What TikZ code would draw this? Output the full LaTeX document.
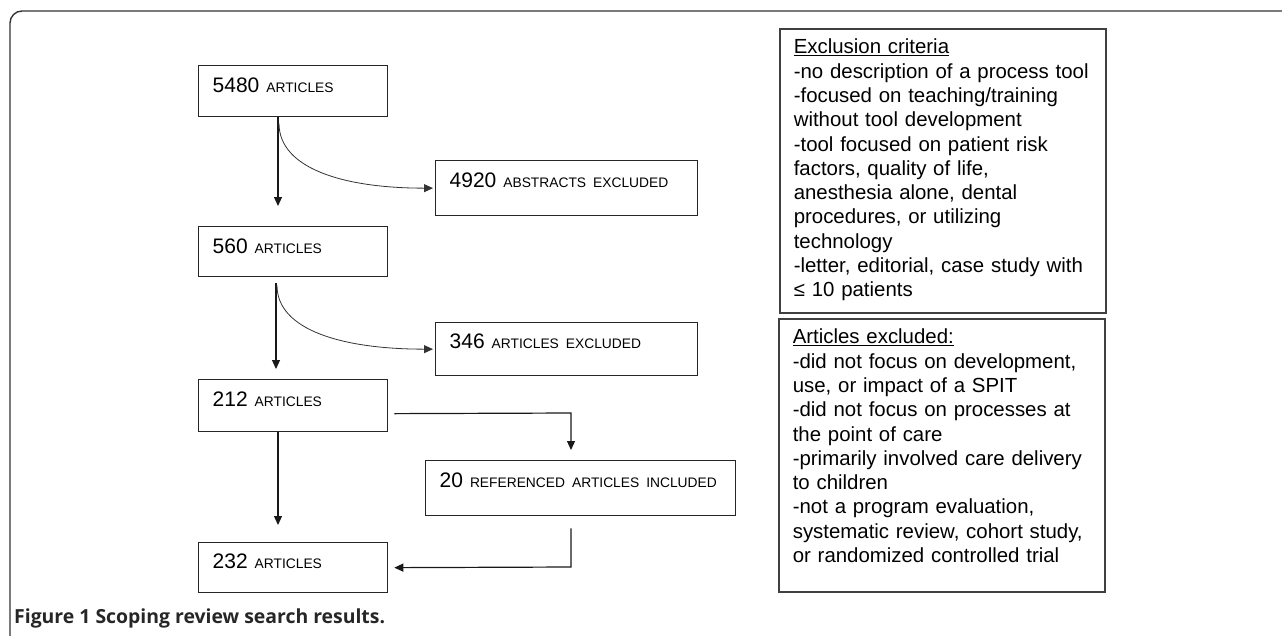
\documentclass[tikz,border=0pt]{standalone}
\usepackage{fontspec}
\setmainfont{Liberation Sans}
\newfontfamily\capfont{Open Sans}
\usetikzlibrary{arrows.meta}
\newcommand\smc[1]{{\fontsize{13.8}{16}\selectfont #1}}
\begin{document}
\begin{tikzpicture}[x=1pt,y=-1pt,
  flow/.style={draw=black!85, line width=1.3pt, inner ysep=0pt, inner xsep=14pt,
    anchor=north west, align=left, text height=27pt,
    font=\fontsize{21}{24}\selectfont},
  crit/.style={draw=black!75, line width=1.6pt, inner ysep=0pt, inner xsep=14pt,
    anchor=north west, align=left, text height=25pt,
    font=\fontsize{20.4}{24.3}\selectfont},
  arr/.style={draw=black!90, line width=1.2pt, -{Triangle[length=9pt,width=8pt]}},
  carr/.style={draw=black!80, line width=0.8pt, -{Triangle[length=9pt,width=8pt]}}]
\useasboundingbox (0,0) rectangle (1282,635);
% frame
\draw[line width=1.4pt, draw=black!80, rounded corners=12pt] (10,660) -- (10,11) -- (1320,11);
% flow boxes
\node[flow, text width=161pt, text depth=24pt] (a) at (198,65) {5480 \smc{ARTICLES}};
\node[flow, text width=234pt, text depth=28pt] (e1) at (435,160) {4920 \smc{ABSTRACTS EXCLUDED}};
\node[flow, text width=161pt, text depth=23pt] (b) at (198,226) {560 \smc{ARTICLES}};
\node[flow, text width=234pt, text depth=27pt, text height=26pt] (e2) at (435,322) {346 \smc{ARTICLES EXCLUDED}};
\node[flow, text width=161pt, text depth=25pt] (c) at (198,379) {212 \smc{ARTICLES}};
\node[flow, text width=282pt, text depth=28pt] (d) at (425,460) {20 \smc{REFERENCED ARTICLES INCLUDED}};
\node[flow, text width=161pt, text depth=24pt, text height=26pt] (f) at (198,542) {232 \smc{ARTICLES}};
% criteria boxes
\node[crit, text width=298pt, text depth=259pt] (k) at (779,28) {\underline{Exclusion criteria}\\
-no description of a process tool\\
-focused on teaching/training\\
without tool development\\
-tool focused on patient risk\\
factors, quality of life,\\
anesthesia alone, dental\\
procedures, or utilizing\\
technology\\
-letter, editorial, case study with\\
≤ 10 patients};
\node[crit, text width=298pt, text depth=248pt] (m) at (778,318) {\underline{Articles excluded:}\\
-did not focus on development,\\
use, or impact of a SPIT\\
-did not focus on processes at\\
the point of care\\
-primarily involved care delivery\\
to children\\
-not a program evaluation,\\
systematic review, cohort study,\\
or randomized controlled trial};
% connectors
\draw[arr] ([xshift=80pt]a.south west) -- ([xshift=80pt,yshift=20pt]b.north west);
\draw[carr] ([xshift=81pt,yshift=-6pt]a.south west) .. controls +(0,-45pt) and +(-90pt,0) .. ([xshift=-2pt]e1.west);
\draw[arr] ([xshift=78pt,yshift=-6pt]b.south west) -- ([xshift=78pt,yshift=10pt]c.north west);
\draw[carr] ([xshift=79pt,yshift=-8pt]b.south west) .. controls +(0,-45pt) and +(-90pt,0) .. ([xshift=-2pt]e2.west);
\draw[arr] ([xshift=80pt]c.south west) -- ([xshift=80pt,yshift=17pt]f.north west);
\coordinate (k1) at (571,413);
\coordinate (k2) at (571,567);
\draw[arr] ([xshift=6pt,yshift=-8pt]c.east) -- (k1) -- ([yshift=10pt]d.north -| k1);
\draw[arr] ([yshift=-12pt]d.south -| k2) -- (k2) -- ([xshift=6pt]f.east);
% caption
\node[anchor=base west, inner sep=0pt, text=black!85, font=\capfont\bfseries\fontsize{19.4}{22}\selectfont] (cap) at (14,623) {Figure 1 Scoping review search results.};
\end{tikzpicture}
\end{document}
